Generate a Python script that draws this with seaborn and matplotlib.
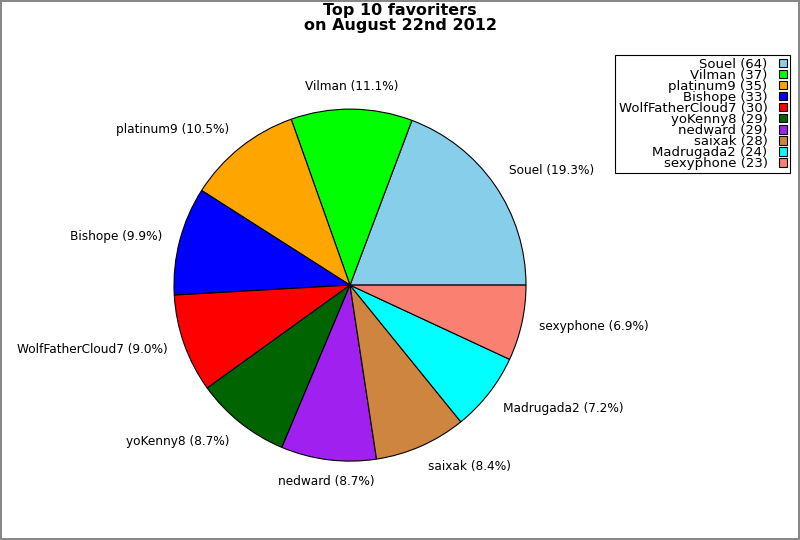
import matplotlib
matplotlib.use("Agg")
import matplotlib.pyplot as plt
import seaborn as sns

# Favoriters and their counts
names = ["Souel", "Vilman", "platinum9", "Bishope", "WolfFatherCloud7",
         "yoKenny8", "nedward", "saixak", "Madrugada2", "sexyphone"]
counts = [64, 37, 35, 33, 30, 29, 29, 28, 24, 23]
colors = ["skyblue", "lime", "orange", "blue", "red",
          "darkgreen", "#a020f0", "peru", "cyan", "salmon"]

sns.set_style("white")
plt.rcParams['font.family'] = ['DejaVu Sans']
plt.rcParams['text.color'] = 'black'

total = sum(counts)
pie_labels = [f"{n} ({c / total * 100:.1f}%)" for n, c in zip(names, counts)]
legend_labels = [f"{n} ({c})" for n, c in zip(names, counts)]

fig = plt.figure(figsize=(8, 5.4), dpi=100)
fig.patch.set_edgecolor("#888888")
fig.patch.set_linewidth(1.5)
ax = fig.add_axes([0.2175, 0.146, 0.44, 0.652])

wedges, texts = ax.pie(counts, labels=pie_labels, colors=sns.color_palette(colors),
                       startangle=0, counterclock=True,
                       wedgeprops={"edgecolor": "black", "linewidth": 0.8},
                       textprops={"fontsize": 8.7, "color": "black"})
ax.set_xlim(-1, 1)
ax.set_ylim(-1, 1)
ax.set_aspect("equal")

# labels near the top/bottom sit centred and a bit further out vertically
for t in texts:
    x, y = t.get_position()
    if abs(x) < 0.2:
        t.set_ha("center")
    if y > 0.5:
        t.set_y(y + 0.026)
    elif y < -0.5:
        t.set_y(y - 0.026)

fig.suptitle("Top 10 favoriters\non August 22nd 2012", fontsize=11.5,
             fontweight="bold", y=0.994, linespacing=0.95, color="black")

leg = fig.legend(wedges, legend_labels, loc="upper right",
                 bbox_to_anchor=(0.9875, 0.899), borderaxespad=0,
                 markerfirst=False, fontsize=9.5, labelspacing=-0.15,
                 handlelength=0.55, handleheight=0.6, handletextpad=0.9,
                 borderpad=0.25, fancybox=False, framealpha=1,
                 edgecolor="black")
leg.get_frame().set_linewidth(0.8)
for t in leg.get_texts():
    t.set_ha("right")
    t.set_color("black")

fig.savefig("out.png", dpi=100, edgecolor=fig.get_edgecolor())
